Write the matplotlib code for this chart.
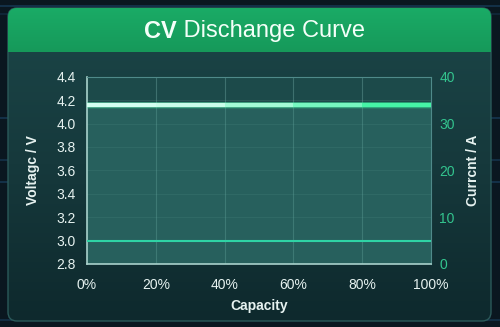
import numpy as np
import matplotlib
matplotlib.use("Agg")
import matplotlib.pyplot as plt
from matplotlib.patches import FancyBboxPatch
from matplotlib.collections import LineCollection
from matplotlib.colors import LinearSegmentedColormap

plt.rcParams["font.family"] = ["Liberation Sans", "DejaVu Sans"]

# ── Data ───────────────────────────────────────────────────────────
capacity = [0, 20, 40, 60, 80, 100]          # %
voltage = [4.16, 4.16, 4.16, 4.16, 4.16, 4.16]  # V (constant-voltage hold)
current = [34, 34, 34, 34, 34, 34]            # A
cutoff_voltage = 3.0                          # V
x_ticks = [0, 20, 40, 60, 80, 100]
v_ticks = [2.8, 3.0, 3.2, 3.4, 3.6, 3.8, 4.0, 4.2, 4.4]
i_ticks = [0, 10, 20, 30, 40]

# ── Colours ────────────────────────────────────────────────────────
BG = "#0a1720"
TEXT = "#e6f2f0"
GREEN_TXT = "#33c48e"
LINE_V = "#d9fff4"
LINE_I = "#2ff39b"
CUTOFF = "#2fd3a5"

fig = plt.figure(figsize=(5.0, 3.27), dpi=100)
fig.patch.set_facecolor(BG)

# background layer in pixel-like units
bg = fig.add_axes([0, 0, 1, 1])
bg.axis("off")

# faint blue streaks behind the panel
for y, a in [(6, 0.35), (14, 0.2), (118, 0.35), (160, 0.3), (182, 0.35), (320, 0.3)]:
    bg.plot([0, 500], [y, y], color="#2a6fa8", lw=1.2, alpha=a, zorder=0)

# panel body with vertical gradient
panel = FancyBboxPatch((8, 8), 483, 313, boxstyle="round,pad=0,rounding_size=9",
                       fc="none", ec="#2b5a5a", lw=1.0, zorder=2)
bg.add_patch(panel)
grad = np.linspace(0, 1, 256)[:, None]
body_cmap = LinearSegmentedColormap.from_list("body", ["#1b4648", "#16393c", "#0e292d"])
img = bg.imshow(grad, cmap=body_cmap, extent=[8, 491, 321, 8], aspect="auto", zorder=1)
img.set_clip_path(panel)

# green header band
head_clip = FancyBboxPatch((8, 8), 483, 313, boxstyle="round,pad=0,rounding_size=9",
                           fc="none", ec="none")
bg.add_patch(head_clip)
head_cmap = LinearSegmentedColormap.from_list("head", ["#1aab66", "#16995a"])
himg = bg.imshow(grad, cmap=head_cmap, extent=[8, 491, 52, 8], aspect="auto", zorder=3)
himg.set_clip_path(head_clip)

# imshow resets the limits, so fix them afterwards
bg.set_xlim(0, 500)
bg.set_ylim(327, 0)

bg.text(177, 31, "CV", fontsize=17, fontweight="bold", color="#f4fff9",
        ha="right", va="center", zorder=5)
bg.text(177, 31, " Dischange Curve", fontsize=17, color="#f4fff9",
        ha="left", va="center", zorder=5)

# ── Plot area ──────────────────────────────────────────────────────
ax = fig.add_axes([0.174, 0.193, 0.688, 0.572])
ax.set_facecolor("#1c4a4a")
ax.set_xlim(0, 100)
ax.set_ylim(2.8, 4.4)
ax.set_xticks(x_ticks)
ax.set_xticklabels([f"{v}%" for v in x_ticks])
ax.set_yticks(v_ticks)
ax.set_yticklabels([f"{v:.1f}" for v in v_ticks])
ax.tick_params(length=0, colors=TEXT, labelsize=10, pad=8)
ax.tick_params(axis="x", pad=10)

for v in v_ticks[1:-1]:
    ax.axhline(v, color="#6fa8a4", lw=0.6, alpha=0.18, zorder=1)
for c in x_ticks[1:-1]:
    ax.axvline(c, color="#7fb8b2", lw=0.8, alpha=0.35, zorder=1)

for side in ("top", "right"):
    ax.spines[side].set_color("#4f8a8a")
    ax.spines[side].set_linewidth(0.8)
for side in ("left", "bottom"):
    ax.spines[side].set_color("#a9d2cc")
    ax.spines[side].set_linewidth(1.2)

# soft fill below the voltage hold
ax.fill_between(capacity, voltage, 2.8, color="#3d8a82", alpha=0.35, zorder=1, lw=0)

# cut-off voltage
ax.axhline(cutoff_voltage, color=CUTOFF, lw=1.5, zorder=3)

# current on the secondary axis
ax2 = ax.twinx()
ax2.set_ylim(0, 40)
ax2.set_yticks(i_ticks)
ax2.tick_params(length=0, colors=GREEN_TXT, labelsize=10, pad=6)
for s in ax2.spines.values():
    s.set_visible(False)
ax2.plot(capacity, current, color=LINE_I, lw=5, alpha=0.15, zorder=3,
         solid_capstyle="butt")
ax2.plot(capacity, current, color=LINE_I, lw=3.2, zorder=4, solid_capstyle="butt")

# voltage line blending from pale cyan into the current trace;
# added to ax2 so it sits above the current line, but in voltage units
v_to_i = LinearSegmentedColormap.from_list("v2i", [LINE_V, "#c8fde9", "#7ef8c4", LINE_I])
pts = np.column_stack([capacity, voltage])
segs = np.stack([pts[:-1], pts[1:]], axis=1)
mids = (np.array(capacity[:-1]) + np.array(capacity[1:])) / 200
lc = LineCollection(segs, colors=v_to_i(mids), linewidths=3.2, zorder=5,
                    capstyle="butt", transform=ax.transData)
ax2.add_collection(lc, autolim=False)
ax2.set_ylim(0, 40)

ax.set_xlabel("Capacity", color=TEXT, fontsize=10, fontweight="bold", labelpad=5)
ax.set_ylabel("Voltagc / V", color=TEXT, fontsize=10, fontweight="bold", labelpad=12)
ax2.set_ylabel("Currcnt / A", color=TEXT, fontsize=10, fontweight="bold", labelpad=8)

fig.savefig("out.png", dpi=100, facecolor=BG)
